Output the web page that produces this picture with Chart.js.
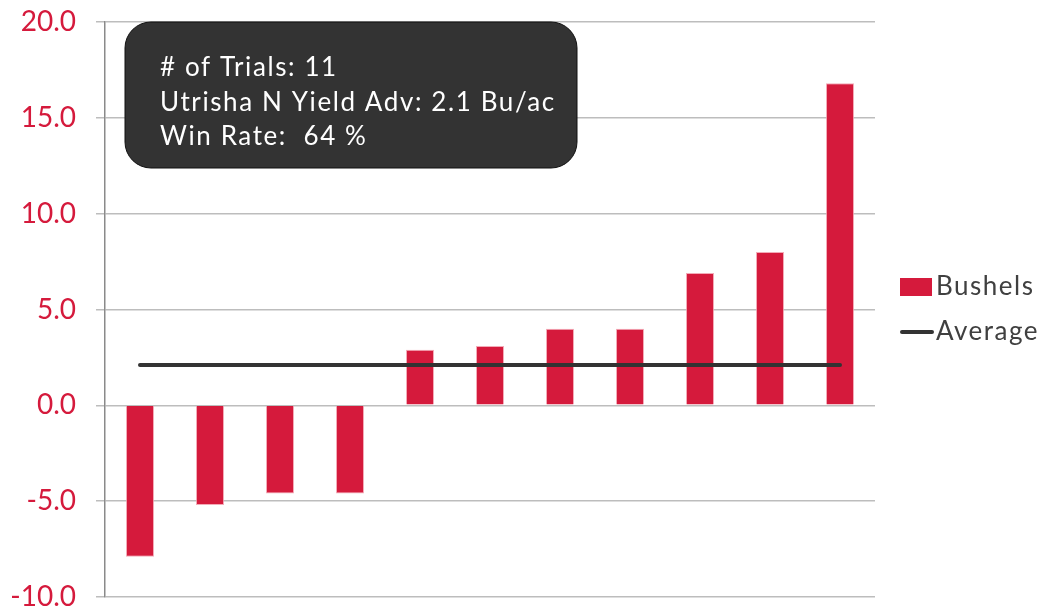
<!DOCTYPE html>
<html>
<head>
<meta charset="utf-8">
<script src="https://cdn.jsdelivr.net/npm/chart.js@4"></script>
<style>
  html, body { margin: 0; padding: 0; background: #fff; }
  #wrap { width: 1042px; height: 606px; }
</style>
</head>
<body>
<div id="wrap"><canvas id="barChart" width="1042" height="606"></canvas></div>
<script>
"use strict";

// trial results, sorted low to high
const trials = ['1', '2', '3', '4', '5', '6', '7', '8', '9', '10', '11'];
const bushels = [-7.9, -5.2, -4.6, -4.6, 2.9, 3.1, 4.0, 4.0, 6.9, 8.0, 16.8];
const average = [2.1, 2.1, 2.1, 2.1, 2.1, 2.1, 2.1, 2.1, 2.1, 2.1, 2.1];
const yTicks = [-10, -5, 0, 5, 10, 15, 20];
const summary = ['# of Trials: 11', 'Utrisha N Yield Adv: 2.1 Bu/ac', 'Win Rate:  64 %'];

const RED = '#D51A3C';
const DARK = '#333333';
const FONT = 'Lato, "Open Sans", sans-serif';

// dark rounded box with the trial summary
const summaryBox = {
    id: 'summaryBox',
    afterDraw(chart) {
        const ctx = chart.ctx;
        const x = 125, y = 22, w = 452, h = 146, r = 26;
        ctx.save();
        ctx.beginPath();
        ctx.roundRect(x, y, w, h, r);
        ctx.fillStyle = DARK;
        ctx.fill();
        ctx.lineWidth = 1;
        ctx.strokeStyle = '#111';
        ctx.stroke();
        ctx.fillStyle = '#ffffff';
        ctx.font = '26px ' + FONT;
        ctx.letterSpacing = '1.6px';
        ctx.textBaseline = 'middle';
        summary.forEach((line, i) => ctx.fillText(line, 160, 68 + i * 34.5));
        ctx.restore();
    }
};

// legend on the right, drawn from the datasets
const sideLegend = {
    id: 'sideLegend',
    afterDraw(chart) {
        const ctx = chart.ctx;
        ctx.save();
        ctx.font = '26px ' + FONT;
        ctx.letterSpacing = '1.5px';
        ctx.textBaseline = 'middle';
        chart.data.datasets.forEach((ds, i) => {
            const cy = 287 + i * 45;
            if (ds.type === 'line') {
                ctx.strokeStyle = ds.borderColor;
                ctx.lineWidth = 4;
                ctx.lineCap = 'round';
                ctx.beginPath();
                ctx.moveTo(902, cy);
                ctx.lineTo(932, cy);
                ctx.stroke();
            } else {
                ctx.fillStyle = ds.backgroundColor;
                ctx.fillRect(900, cy - 9, 32, 18);
            }
            ctx.fillStyle = '#404040';
            ctx.fillText(ds.label, 936, cy);
        });
        ctx.restore();
    }
};

const barCtx = document.getElementById('barChart');
new Chart(barCtx, {
    data: {
        labels: trials,
        datasets: [
            {
                type: 'bar',
                label: 'Bushels',
                data: bushels,
                backgroundColor: RED,
                borderColor: 'rgba(240, 150, 165, 0.8)',
                borderWidth: 1,
                barPercentage: 0.4,
                categoryPercentage: 1.0,
                order: 2
            },
            {
                type: 'line',
                label: 'Average',
                data: average,
                borderColor: DARK,
                borderWidth: 4,
                pointRadius: 0,
                borderCapStyle: 'round',
                order: 1
            }
        ]
    },
    options: {
        responsive: false,
        animation: false,
        layout: { padding: { left: 0, right: 167, top: 22, bottom: 9 } },
        plugins: {
            legend: { display: false },
            tooltip: { enabled: false }
        },
        scales: {
            x: {
                display: false,
                offset: true
            },
            y: {
                min: -10,
                max: 20,
                afterBuildTicks(scale) {
                    scale.ticks = yTicks.map(v => ({ value: v }));
                },
                afterFit(scale) {
                    scale.width = 105;
                    scale.paddingTop = 0;
                    scale.paddingBottom = 0;
                },
                border: { display: true, color: '#8a8a8a', width: 1.5 },
                grid: {
                    color: '#bdbdbd',
                    lineWidth: 1.5,
                    tickLength: 9,
                    drawTicks: true
                },
                ticks: {
                    color: RED,
                    padding: 20,
                    font: { family: FONT, size: 28 },
                    callback: v => v.toFixed(1)
                }
            }
        }
    },
    plugins: [summaryBox, sideLegend]
});
</script>
</body>
</html>
